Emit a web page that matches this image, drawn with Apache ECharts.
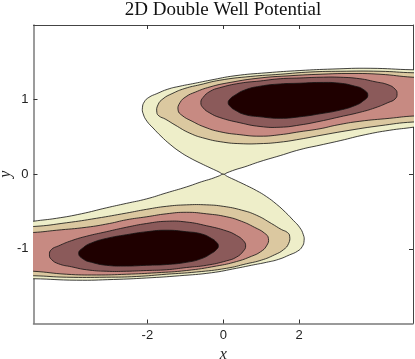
<!DOCTYPE html>
<html>
<head>
<meta charset="UTF-8">
<title>2D Double Well Potential</title>
<script src="https://cdn.jsdelivr.net/npm/echarts@6/dist/echarts.min.js"></script>
<style>
  html, body { margin: 0; padding: 0; background: #fff; }
  #chart { width: 415px; height: 359px; }
</style>
</head>
<body>
<div id="chart"></div>
<script>
// tick positions
var xTicks = [-2, 0, 2];
var yTicks = [-1, 0, 1];

// fill colour of each contour band, outermost first
var levelColors = ['#eeeec9', '#dbc8a0', '#c78a82', '#8b5a5a', '#1f0000'];

// contour outlines, [x, y] in data units
// upper well (x > 0)
var upperL1 = [[0,0],[-0.11,0.03],[-0.32,0.08],[-0.61,0.15],[-0.88,0.22],[-1.14,0.30],[-1.40,0.40],[-1.64,0.51],[-1.85,0.62],[-2.01,0.71],[-2.11,0.81],[-2.13,0.89],[-2.08,0.97],[-1.96,1.03],[-1.75,1.08],[-1.46,1.14],[-1.14,1.18],[-0.74,1.22],[-0.35,1.26],[0.31,1.32],[1.15,1.36],[2.02,1.39],[2.89,1.41],[3.87,1.42],[5.00,1.40],[5.71,1.40],[5.71,0.69],[5.00,0.63],[4.39,0.59],[3.74,0.53],[3.08,0.45],[2.55,0.39],[2.02,0.33],[1.50,0.25],[0.97,0.17],[0.57,0.10],[0.31,0.06],[0.10,0.02]];
var upperL2 = [[-1.75,0.83],[-1.72,0.93],[-1.59,1.01],[-1.35,1.08],[-1.01,1.15],[-0.61,1.20],[-0.09,1.26],[0.71,1.31],[1.50,1.34],[2.29,1.37],[3.08,1.38],[4.13,1.38],[5.00,1.36],[5.71,1.36],[5.71,0.70],[5.00,0.70],[4.13,0.65],[3.34,0.59],[2.55,0.52],[2.02,0.47],[1.50,0.43],[0.97,0.41],[0.44,0.41],[0,0.43],[-0.48,0.48],[-0.88,0.55],[-1.27,0.66],[-1.53,0.74],[-1.69,0.78]];
var upperL3 = [[-1.19,0.86],[-1.14,0.96],[-0.98,1.04],[-0.74,1.10],[-0.35,1.17],[0.18,1.23],[0.97,1.29],[1.76,1.32],[2.55,1.34],[3.34,1.35],[4.13,1.34],[5.00,1.30],[5.71,1.29],[5.71,0.79],[5.00,0.78],[4.39,0.75],[3.60,0.71],[3.00,0.66],[2.55,0.61],[2.02,0.57],[1.50,0.53],[0.97,0.51],[0.44,0.53],[-0.09,0.57],[-0.48,0.63],[-0.82,0.71],[-1.09,0.79]];
var upperL4 = [[-0.59,0.96],[-0.53,1.03],[-0.35,1.11],[-0.09,1.16],[0.44,1.22],[0.97,1.25],[1.50,1.28],[2.02,1.29],[2.55,1.30],[3.08,1.30],[3.60,1.28],[4.00,1.24],[4.34,1.20],[4.53,1.14],[4.58,1.08],[4.53,1.01],[4.34,0.96],[4.00,0.89],[3.60,0.83],[3.08,0.77],[2.55,0.71],[2.02,0.66],[1.50,0.63],[0.97,0.64],[0.44,0.69],[-0.09,0.76],[-0.35,0.82],[-0.53,0.89]];
var upperL5 = [[0.13,0.96],[0.18,1.01],[0.31,1.06],[0.57,1.13],[0.97,1.18],[1.50,1.21],[2.02,1.22],[2.55,1.23],[3.08,1.22],[3.47,1.18],[3.68,1.14],[3.81,1.06],[3.68,0.98],[3.47,0.92],[3.08,0.86],[2.55,0.81],[2.02,0.77],[1.50,0.75],[0.97,0.77],[0.57,0.80],[0.31,0.86],[0.18,0.91]];

// lower well (x < 0)
var lowerL1 = [[0,0],[0.11,-0.03],[0.32,-0.08],[0.61,-0.15],[0.88,-0.22],[1.14,-0.30],[1.40,-0.40],[1.64,-0.51],[1.85,-0.62],[2.01,-0.71],[2.11,-0.81],[2.13,-0.89],[2.08,-0.97],[1.96,-1.03],[1.75,-1.08],[1.46,-1.14],[1.14,-1.18],[0.74,-1.22],[0.35,-1.26],[-0.31,-1.32],[-1.15,-1.36],[-2.02,-1.39],[-2.89,-1.41],[-3.87,-1.42],[-5.00,-1.40],[-5.71,-1.40],[-5.71,-0.69],[-5.00,-0.63],[-4.39,-0.59],[-3.74,-0.53],[-3.08,-0.45],[-2.55,-0.39],[-2.02,-0.33],[-1.50,-0.25],[-0.97,-0.17],[-0.57,-0.10],[-0.31,-0.06],[-0.10,-0.02]];
var lowerL2 = [[1.75,-0.83],[1.72,-0.93],[1.59,-1.01],[1.35,-1.08],[1.01,-1.15],[0.61,-1.20],[0.09,-1.26],[-0.71,-1.31],[-1.50,-1.34],[-2.29,-1.37],[-3.08,-1.38],[-4.13,-1.38],[-5.00,-1.36],[-5.71,-1.36],[-5.71,-0.70],[-5.00,-0.70],[-4.13,-0.65],[-3.34,-0.59],[-2.55,-0.52],[-2.02,-0.47],[-1.50,-0.43],[-0.97,-0.41],[-0.44,-0.41],[0,-0.43],[0.48,-0.48],[0.88,-0.55],[1.27,-0.66],[1.53,-0.74],[1.69,-0.78]];
var lowerL3 = [[1.19,-0.86],[1.14,-0.96],[0.98,-1.04],[0.74,-1.10],[0.35,-1.17],[-0.18,-1.23],[-0.97,-1.29],[-1.76,-1.32],[-2.55,-1.34],[-3.34,-1.35],[-4.13,-1.34],[-5.00,-1.30],[-5.71,-1.29],[-5.71,-0.79],[-5.00,-0.78],[-4.39,-0.75],[-3.60,-0.71],[-3.00,-0.66],[-2.55,-0.61],[-2.02,-0.57],[-1.50,-0.53],[-0.97,-0.51],[-0.44,-0.53],[0.09,-0.57],[0.48,-0.63],[0.82,-0.71],[1.09,-0.79]];
var lowerL4 = [[0.59,-0.96],[0.53,-1.03],[0.35,-1.11],[0.09,-1.16],[-0.44,-1.22],[-0.97,-1.25],[-1.50,-1.28],[-2.02,-1.29],[-2.55,-1.30],[-3.08,-1.30],[-3.60,-1.28],[-4.00,-1.24],[-4.34,-1.20],[-4.53,-1.14],[-4.58,-1.08],[-4.53,-1.01],[-4.34,-0.96],[-4.00,-0.89],[-3.60,-0.83],[-3.08,-0.77],[-2.55,-0.71],[-2.02,-0.66],[-1.50,-0.63],[-0.97,-0.64],[-0.44,-0.69],[0.09,-0.76],[0.35,-0.82],[0.53,-0.89]];
var lowerL5 = [[-0.13,-0.96],[-0.18,-1.01],[-0.31,-1.06],[-0.57,-1.13],[-0.97,-1.18],[-1.50,-1.21],[-2.02,-1.22],[-2.55,-1.23],[-3.08,-1.22],[-3.47,-1.18],[-3.68,-1.14],[-3.81,-1.06],[-3.68,-0.98],[-3.47,-0.92],[-3.08,-0.86],[-2.55,-0.81],[-2.02,-0.77],[-1.50,-0.75],[-0.97,-0.77],[-0.57,-0.80],[-0.31,-0.86],[-0.18,-0.91]];

// drawing order: outer bands first
var contours = [
    { level: 0, pts: upperL1 }, { level: 0, pts: lowerL1 },
    { level: 1, pts: upperL2 }, { level: 1, pts: lowerL2 },
    { level: 2, pts: upperL3 }, { level: 2, pts: lowerL3 },
    { level: 3, pts: upperL4 }, { level: 3, pts: lowerL4 },
    { level: 4, pts: upperL5 }, { level: 4, pts: lowerL5 }
];

var chart = echarts.init(document.getElementById('chart'));

var serifFont = "'Liberation Serif', 'DejaVu Serif', serif";
var sansFont = "'Liberation Sans', Arial, sans-serif";
var axisColor = '#7a7a7a';

function frameAxis(pos, ticks, isX) {
    var outer = (pos === 'top' || pos === 'right');
    return {
        type: 'value',
        position: pos,
        min: isX ? -5 : -2,
        max: isX ? 5 : 2,
        axisLine: { show: true, onZero: false, lineStyle: { color: outer ? '#444' : axisColor, width: outer ? 1 : 1.5 } },
        axisTick: { show: true, inside: true, length: 4, customValues: ticks, lineStyle: { color: '#333', width: 1 } },
        axisLabel: { show: false },
        splitLine: { show: false }
    };
}

var xBottom = frameAxis('bottom', xTicks, true);
xBottom.axisLabel = { show: true, customValues: xTicks, margin: 5, color: '#222', fontFamily: sansFont, fontSize: 13 };
xBottom.name = 'x';
xBottom.nameLocation = 'middle';
xBottom.nameGap = 16;
xBottom.nameTextStyle = { fontFamily: serifFont, fontStyle: 'italic', fontSize: 16, color: '#222' };

var yLeft = frameAxis('left', yTicks, false);
yLeft.axisLabel = { show: true, customValues: yTicks, margin: 5, color: '#222', fontFamily: sansFont, fontSize: 13 };
yLeft.name = 'y';
yLeft.nameLocation = 'middle';
yLeft.nameGap = 20;
yLeft.nameMoveOverlap = false;
yLeft.nameTextStyle = { fontFamily: serifFont, fontStyle: 'italic', fontSize: 16, color: '#222' };

chart.setOption({
    animation: false,
    backgroundColor: '#fff',
    title: {
        text: '2D Double Well Potential',
        left: 223,
        top: 1,
        padding: 0,
        textAlign: 'center',
        textStyle: { fontFamily: serifFont, fontWeight: 'normal', fontSize: 19, color: '#111' }
    },
    grid: { left: 33.5, top: 25, width: 379.5, height: 298.5, containLabel: false, outerBoundsMode: 'none' },
    xAxis: [xBottom, frameAxis('top', xTicks, true)],
    yAxis: [yLeft, frameAxis('right', yTicks, false)],
    series: [{
        type: 'custom',
        coordinateSystem: 'cartesian2d',
        xAxisIndex: 0,
        yAxisIndex: 0,
        clip: true,
        silent: true,
        data: contours.map(function (c, i) { return [0, 0, i]; }),
        renderItem: function (params, api) {
            var c = contours[params.dataIndex];
            var pts = c.pts.map(function (p) { return api.coord(p); });
            return {
                type: 'polygon',
                shape: { points: pts, smooth: 0.5 },
                style: { fill: levelColors[c.level], stroke: '#111', lineWidth: 0.8 }
            };
        }
    }]
});
</script>
</body>
</html>
